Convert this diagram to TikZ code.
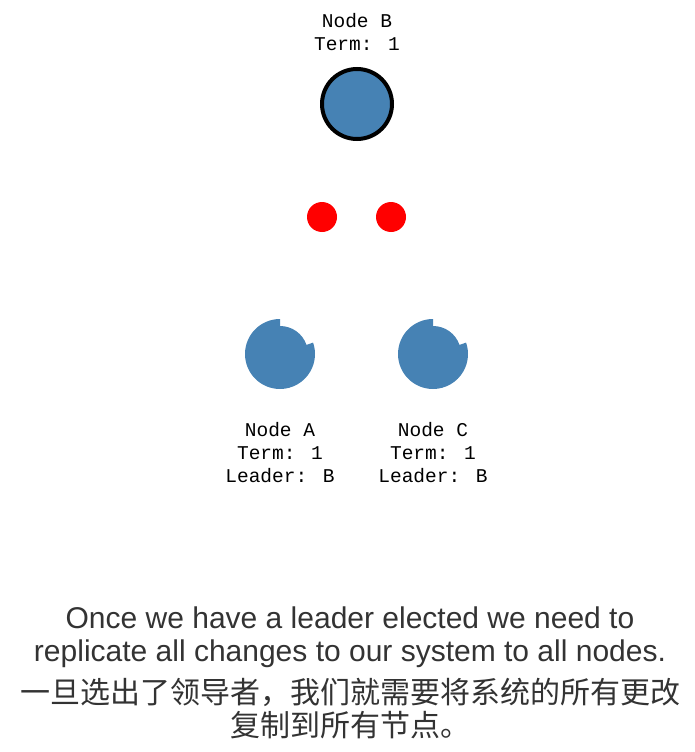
\documentclass[tikz,border=0pt]{standalone}
\usepackage{fontspec}
\setmainfont{Liberation Sans}
\newfontfamily\labelfont{Liberation Mono}
\newfontfamily\cjkfont{Noto Sans CJK SC}
\definecolor{nodeblue}{HTML}{4682B4}
\definecolor{captiongray}{HTML}{333333}

\begin{document}
\begin{tikzpicture}[
			x=1pt, y=1pt,
			leader/.style={circle, fill=nodeblue, draw=black, line width=4pt, minimum size=70pt, inner sep=0pt},
			message/.style={circle, fill=red, minimum size=30pt, inner sep=0pt},
			follower/.style={fill=nodeblue},
			nodetext/.style={font=\labelfont\fontsize{19.5}{23}\selectfont, align=center, inner sep=0pt, anchor=base},
			captiontext/.style={font=\fontsize{30}{33}\selectfont, text=captiongray, align=center, inner sep=0pt, anchor=base} % caption under the picture
			]
			\useasboundingbox (0,0) rectangle (695,-752);
			% leader
			\node[leader] (nodeB) at (357,-104) {};
			\node[nodetext] (textB) at (357,-51) {Node B\\Term: 1};
			% messages on their way
			\node[message] (msgA) at (322,-217) {};
			\node[message] (msgC) at (391,-217) {};
			% followers
			\coordinate (nodeA) at (280,-354);
			\coordinate (nodeC) at (433,-354);
			\fill[follower] (nodeA) ++(90:35) arc[start angle=90, end angle=379, radius=35] -- ++(199:7) arc[start angle=19, end angle=90, radius=28] -- cycle;
			\fill[follower] (nodeC) ++(90:35) arc[start angle=90, end angle=379, radius=35] -- ++(199:7) arc[start angle=19, end angle=90, radius=28] -- cycle;
			\node[nodetext] (textA) at (280,-482.5) {Node A\\Term: 1\\Leader: B};
			\node[nodetext] (textC) at (433,-482.5) {Node C\\Term: 1\\Leader: B};
			% caption
			\node[captiontext] (caption) at (350,-661) {Once we have a leader elected we need to\\replicate all changes to our system to all nodes.};
			\node[captiontext, font=\cjkfont\fontsize{30}{33}\selectfont] (captionzh) at (350,-736) {一旦选出了领导者，我们就需要将系统的所有更改\\复制到所有节点。};
		\end{tikzpicture}
\end{document}
